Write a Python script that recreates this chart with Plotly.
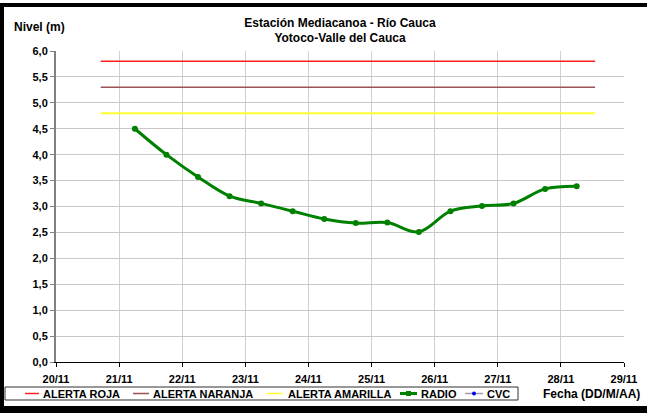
import plotly.graph_objects as go

# ---- data ----
radio_dates = [
    "2011-11-21 06:00", "2011-11-21 18:00", "2011-11-22 06:00", "2011-11-22 18:00",
    "2011-11-23 06:00", "2011-11-23 18:00", "2011-11-24 06:00", "2011-11-24 18:00",
    "2011-11-25 06:00", "2011-11-25 18:00", "2011-11-26 06:00", "2011-11-26 18:00",
    "2011-11-27 06:00", "2011-11-27 18:00", "2011-11-28 06:00",
]
radio_levels = [4.50, 4.00, 3.57, 3.20, 3.06, 2.91, 2.76, 2.68, 2.69, 2.51,
                2.91, 3.01, 3.06, 3.34, 3.39]
alert_dates = ["2011-11-20 17:00", "2011-11-28 13:00"]
alert_roja = [5.8, 5.8]
alert_naranja = [5.3, 5.3]
alert_amarilla = [4.8, 4.8]
cvc_dates = ["2011-11-20"]
cvc_levels = [None]
tick_dates = ["2011-11-%02d" % d for d in range(20, 30)]
tick_labels = ["%d/11" % d for d in range(20, 30)]
legend_names = ["ALERTA ROJA", "ALERTA NARANJA", "ALERTA AMARILLA", "RADIO", "CVC"]

FONT = "Liberation Sans, Arial, sans-serif"
W, H = 647, 413
L, R, T, B = 56, 23, 51, 51
PW, PH = W - L - R, H - T - B

C_ROJA, C_NAR, C_AMA, C_RADIO, C_CVC_L, C_CVC_M = (
    "#ff2020", "#9a5252", "#ffff33", "#008000", "#a0a0a0", "#0000ff")


def px(x):
    return (x - L) / PW


def py(y):
    return (H - B - y) / PH


fig = go.Figure()
fig.add_trace(go.Scatter(x=alert_dates, y=alert_roja, mode="lines", name=legend_names[0],
                         line=dict(color=C_ROJA, width=1.5)))
fig.add_trace(go.Scatter(x=alert_dates, y=alert_naranja, mode="lines", name=legend_names[1],
                         line=dict(color=C_NAR, width=1.5)))
fig.add_trace(go.Scatter(x=alert_dates, y=alert_amarilla, mode="lines", name=legend_names[2],
                         line=dict(color=C_AMA, width=2)))
fig.add_trace(go.Scatter(x=radio_dates, y=radio_levels, mode="lines+markers", name=legend_names[3],
                         line=dict(color=C_RADIO, width=3, shape="spline", smoothing=1.0),
                         marker=dict(color=C_RADIO, size=6, symbol="circle")))
fig.add_trace(go.Scatter(x=cvc_dates, y=cvc_levels, mode="lines+markers", name=legend_names[4],
                         line=dict(color=C_CVC_L, width=1.5),
                         marker=dict(color=C_CVC_M, size=5)))


def rect(x0, y0, x1, y1, fill, line=None):
    d = dict(type="rect", xref="paper", yref="paper", x0=px(x0), x1=px(x1), y0=py(y1), y1=py(y0),
             fillcolor=fill, layer="above")
    d["line"] = line if line else dict(width=0)
    return d


def seg(x0, x1, y, color, width):
    return dict(type="line", xref="paper", yref="paper", x0=px(x0), x1=px(x1), y0=py(y), y1=py(y),
                line=dict(color=color, width=width), layer="above")


shapes = [
    # black frame (left, top, bottom)
    rect(0, 3, 4, 413, "black"),
    rect(0, 3, 647, 7, "black"),
    rect(0, 406, 647, 413, "black"),
    # legend box
    rect(5, 387, 518, 400, "white", dict(color="#303030", width=1)),
]

LY = 393.5
leg = [  # (line x0, line x1, text x, color, width)
    (25, 39, 41, C_ROJA, 1.5),
    (133, 149, 151, C_NAR, 1.5),
    (267, 283, 286, C_AMA, 1.5),
    (400, 417, 419, C_RADIO, 3),
    (465, 483, 485, C_CVC_L, 1.5),
]
annotations = []
for (x0, x1, tx, col, w), name in zip(leg, legend_names):
    shapes.append(seg(x0, x1, LY, col, w))
    annotations.append(dict(text=name, xref="paper", yref="paper", x=px(tx), y=py(LY),
                            xanchor="left", yanchor="middle", showarrow=False,
                            font=dict(family=FONT, size=11, color="black", weight="bold")))
# legend markers
shapes.append(rect(406, LY - 2.5, 411, LY + 2.5, C_RADIO))
shapes.append(dict(type="circle", xref="paper", yref="paper", x0=px(472), x1=px(476),
                   y0=py(LY + 2), y1=py(LY - 2), fillcolor=C_CVC_M, line=dict(width=0),
                   layer="above"))

annotations += [
    dict(text="Nivel (m)", xref="paper", yref="paper", x=px(12), y=py(27.5),
         xanchor="left", yanchor="middle", showarrow=False,
         font=dict(family=FONT, size=12, color="black", weight="bold")),
    dict(text="Fecha (DD/M/AA)", xref="paper", yref="paper", x=px(642), y=py(394),
         xanchor="right", yanchor="middle", showarrow=False,
         font=dict(family=FONT, size=12, color="black", weight="bold")),
]

BOLD = dict(family=FONT, size=11, color="black", weight="bold")

fig.update_layout(
    width=W, height=H,
    margin=dict(l=L, r=R, t=T, b=B, pad=0, autoexpand=False),
    paper_bgcolor="white", plot_bgcolor="white",
    separators=",.",
    font=dict(family=FONT, size=11, color="black"),
    title=dict(text="Estación Mediacanoa - Río Cauca<br>Yotoco-Valle del Cauca",
               x=px(340), xref="paper", xanchor="center", y=1 - 26.5 / H, yanchor="middle",
               font=dict(family=FONT, size=12, color="black", weight="bold")),
    showlegend=False,
    shapes=shapes,
    annotations=annotations,
)

fig.update_xaxes(
    type="date", range=[tick_dates[0], tick_dates[-1]],
    tickmode="array", tickvals=tick_dates, ticktext=tick_labels,
    ticks="outside", ticklen=4, tickcolor="black",
    showgrid=True, gridcolor="#d0d0d0", gridwidth=1,
    showline=True, linecolor="black", linewidth=1,
    zeroline=False, tickfont=BOLD, automargin=False, ticklabelstandoff=3,
    fixedrange=True,
)
fig.update_yaxes(
    range=[0, 6], dtick=0.5, tick0=0, tickformat=".1f",
    ticks="outside", ticklen=4, tickcolor="#808080",
    showgrid=True, gridcolor="#c8c8c8", gridwidth=1,
    showline=True, linecolor="#808080", linewidth=2,
    zeroline=False, tickfont=BOLD, automargin=False,
    fixedrange=True,
)

fig.write_html("out.html", config={"displayModeBar": False},
               post_script="document.body.style.margin='0';document.body.style.overflow='hidden';")
